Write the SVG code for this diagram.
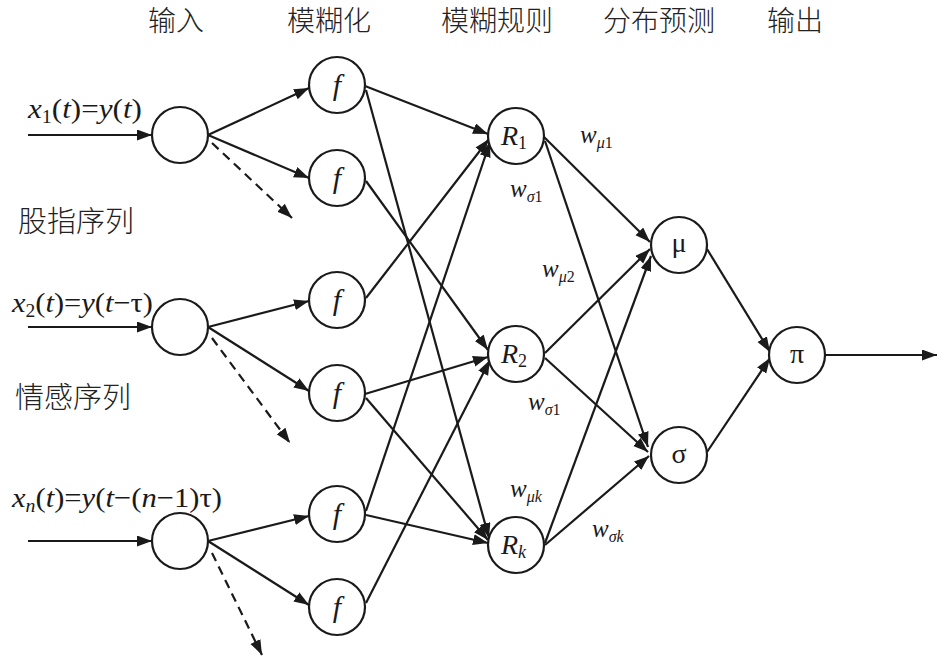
<svg xmlns="http://www.w3.org/2000/svg" width="946" height="658" viewBox="0 0 946 658">
<defs>
<style>
.node{fill:#fff;stroke:#1a1a1a;stroke-width:2.2}
.ln{stroke:#1a1a1a;stroke-width:2.2;fill:none}
.arr{marker-end:url(#ah)}
.dash{stroke-dasharray:9 6;marker-end:url(#ah)}
.cjk{font-family:"Noto Sans CJK SC","Noto Sans CJK JP",sans-serif;font-size:28px;fill:#222;font-weight:300}
.math{font-family:"Liberation Serif","Times New Roman",serif;fill:#1a1a1a}
.it{font-style:italic}
.lbl{font-size:28px}
.w{font-size:25px}
.sub{font-size:16px}
.nl{font-size:28px;text-anchor:middle}
</style>
<marker id="ah" markerUnits="userSpaceOnUse" markerWidth="16" markerHeight="12" refX="15" refY="5.5" orient="auto">
<path d="M0,0 L15,5.5 L0,11 Z" fill="#1a1a1a"/>
</marker>
</defs>
<rect width="946" height="658" fill="#fff"/>

<g id="headers">
<text class="cjk" x="148" y="31">输入</text>
<text class="cjk" x="287" y="31">模糊化</text>
<text class="cjk" x="441" y="31">模糊规则</text>
<text class="cjk" x="603" y="31">分布预测</text>
<text class="cjk" x="767" y="31">输出</text>
<text class="cjk" x="18" y="232" style="font-size:29px">股指序列</text>
<text class="cjk" x="15" y="408" style="font-size:29px">情感序列</text>
</g>

<g id="input-labels" class="math lbl">
<text x="28" y="118" textLength="114" lengthAdjust="spacingAndGlyphs"><tspan class="it">x</tspan><tspan dy="5" style="font-size:18px">1</tspan><tspan dy="-5">(</tspan><tspan class="it">t</tspan>)=<tspan class="it">y</tspan>(<tspan class="it">t</tspan>)</text>
<text x="12" y="312" textLength="141" lengthAdjust="spacingAndGlyphs"><tspan class="it">x</tspan><tspan dy="5" style="font-size:18px">2</tspan><tspan dy="-5">(</tspan><tspan class="it">t</tspan>)=<tspan class="it">y</tspan>(<tspan class="it">t</tspan>−τ)</text>
<text x="12" y="507" textLength="210" lengthAdjust="spacingAndGlyphs"><tspan class="it">x</tspan><tspan class="it" dy="5" style="font-size:18px">n</tspan><tspan dy="-5">(</tspan><tspan class="it">t</tspan>)=<tspan class="it">y</tspan>(<tspan class="it">t</tspan>−(<tspan class="it">n</tspan>−1)τ)</text>
</g>

<g id="connectors">
<line class="ln arr" x1="28" y1="135" x2="152" y2="135"/>
<line class="ln arr" x1="28" y1="327" x2="152" y2="327"/>
<line class="ln arr" x1="28" y1="541" x2="152" y2="541"/>

<line class="ln arr" x1="208" y1="135" x2="309" y2="88"/>
<line class="ln arr" x1="208" y1="135" x2="309" y2="178"/>
<line class="ln dash" x1="212" y1="143" x2="292" y2="218"/>
<line class="ln arr" x1="208" y1="327" x2="309" y2="301"/>
<line class="ln arr" x1="208" y1="327" x2="309" y2="391"/>
<line class="ln dash" x1="212" y1="338" x2="290" y2="443"/>
<line class="ln arr" x1="208" y1="541" x2="309" y2="516"/>
<line class="ln arr" x1="208" y1="541" x2="309" y2="605"/>
<line class="ln dash" x1="212" y1="553" x2="262" y2="655"/>

<line class="ln arr" x1="365" y1="86" x2="488" y2="134"/>
<line class="ln arr" x1="366" y1="90" x2="489" y2="538"/>
<line class="ln arr" x1="366" y1="181" x2="488" y2="350"/>
<line class="ln arr" x1="366" y1="298" x2="489" y2="139"/>
<line class="ln arr" x1="365" y1="394" x2="488" y2="357"/>
<line class="ln arr" x1="366" y1="398" x2="488" y2="540"/>
<line class="ln arr" x1="366" y1="511" x2="490" y2="142"/>
<line class="ln arr" x1="366" y1="515" x2="488" y2="543"/>
<line class="ln arr" x1="366" y1="603" x2="490" y2="360"/>

<line class="ln arr" x1="544" y1="137" x2="650" y2="242"/>
<line class="ln arr" x1="545" y1="141" x2="648" y2="447"/>
<line class="ln arr" x1="545" y1="353" x2="650" y2="249"/>
<line class="ln arr" x1="545" y1="358" x2="648" y2="452"/>
<line class="ln arr" x1="545" y1="543" x2="651" y2="256"/>
<line class="ln arr" x1="545" y1="545" x2="649" y2="456"/>

<line class="ln arr" x1="707" y1="249" x2="770" y2="352"/>
<line class="ln arr" x1="707" y1="452" x2="770" y2="358"/>
<line class="ln arr" x1="825" y1="355" x2="937" y2="355"/>
</g>

<g id="weight-labels" class="math">
<text class="w it" x="580" y="143">w<tspan class="sub" dy="5">μ</tspan><tspan class="sub" style="font-style:normal">1</tspan></text>
<text class="w it" x="510" y="197">w<tspan class="sub" dy="5">σ</tspan><tspan class="sub" style="font-style:normal">1</tspan></text>
<text class="w it" x="542" y="277">w<tspan class="sub" dy="5">μ</tspan><tspan class="sub" style="font-style:normal">2</tspan></text>
<text class="w it" x="528" y="410">w<tspan class="sub" dy="5">σ</tspan><tspan class="sub" style="font-style:normal">1</tspan></text>
<text class="w it" x="510" y="497">w<tspan class="sub" dy="5">μk</tspan></text>
<text class="w it" x="592" y="537">w<tspan class="sub" dy="5">σk</tspan></text>
</g>

<g id="in1"><circle class="node" cx="180" cy="135" r="28"/></g>
<g id="in2"><circle class="node" cx="180" cy="327" r="28"/></g>
<g id="in3"><circle class="node" cx="180" cy="541" r="28"/></g>

<g id="f1"><circle class="node" cx="337" cy="85" r="28"/><text class="math it nl" x="337" y="95" style="font-size:30px">f</text></g>
<g id="f2"><circle class="node" cx="337" cy="178" r="28"/><text class="math it nl" x="337" y="188" style="font-size:30px">f</text></g>
<g id="f3"><circle class="node" cx="337" cy="300" r="28"/><text class="math it nl" x="337" y="310" style="font-size:30px">f</text></g>
<g id="f4"><circle class="node" cx="337" cy="393" r="28"/><text class="math it nl" x="337" y="403" style="font-size:30px">f</text></g>
<g id="f5"><circle class="node" cx="337" cy="514" r="28"/><text class="math it nl" x="337" y="524" style="font-size:30px">f</text></g>
<g id="f6"><circle class="node" cx="337" cy="607" r="28"/><text class="math it nl" x="337" y="617" style="font-size:30px">f</text></g>

<g id="R1"><circle class="node" cx="516" cy="136" r="28"/><text class="math" x="501" y="145" style="font-size:28px"><tspan class="it">R</tspan><tspan dy="4" style="font-size:18px">1</tspan></text></g>
<g id="R2"><circle class="node" cx="516" cy="354" r="28"/><text class="math" x="501" y="363" style="font-size:28px"><tspan class="it">R</tspan><tspan dy="4" style="font-size:18px">2</tspan></text></g>
<g id="Rk"><circle class="node" cx="516" cy="545" r="28"/><text class="math" x="501" y="554" style="font-size:28px"><tspan class="it">R</tspan><tspan class="it" dy="4" style="font-size:18px">k</tspan></text></g>

<g id="mu"><circle class="node" cx="679" cy="245" r="28"/><text class="math nl" x="679" y="252">μ</text></g>
<g id="sigma"><circle class="node" cx="679" cy="455" r="28"/><text class="math nl" x="679" y="463">σ</text></g>
<g id="pi"><circle class="node" cx="797" cy="355" r="28"/><text class="math nl" x="797" y="363">π</text></g>
</svg>
